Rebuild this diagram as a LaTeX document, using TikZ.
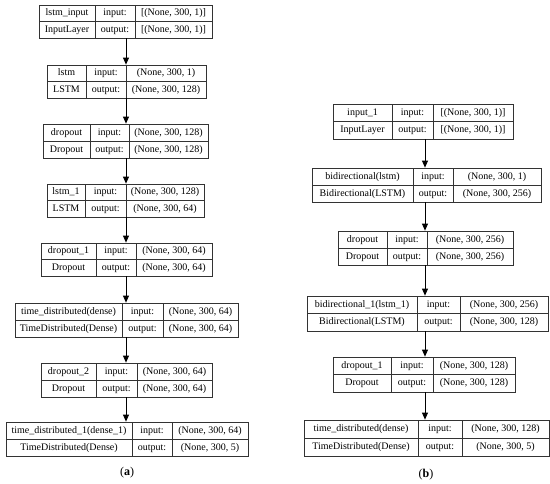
\documentclass[tikz,border=0pt]{standalone}
\usepackage{fontspec}
\setmainfont{Liberation Serif}
\usetikzlibrary{arrows.meta,fit}
\tikzset{
  boxline/.style={draw=black!80, line width=0.8pt},
  celltext/.style={inner sep=0pt, font=\fontsize{10}{12}\selectfont, text height=7pt, text depth=2pt},
  flow/.style={draw=black, line width=0.8pt, -{Triangle[length=7pt,width=6pt]}},
  sublabel/.style={inner sep=0pt, font=\fontsize{12}{14}\selectfont}
}
% \LB{id}{x0}{xa}{xb}{x1}{y0}{y1}{name}{type}{in}{out}
\newcommand\LB[9]{%
  \def\LBid{#1}\def\LBxo{#2}\def\LBxa{#3}\def\LBxb{#4}\def\LBxi{#5}%
  \def\LByo{#6}\def\LByi{#7}\def\LBname{#8}\def\LBtype{#9}\LBfinish}
\newcommand\LBfinish[2]{%
  \pgfmathsetmacro\LBym{(\LByo+\LByi)/2}%
  \coordinate (\LBid-nw) at (\LBxo,\LByo);
  \coordinate (\LBid-se) at (\LBxi,\LByi);
  \node[boxline, inner sep=0pt, fit=(\LBid-nw)(\LBid-se)] (\LBid) {};
  \draw[boxline] (\LBxa,\LByo) -- (\LBxa,\LByi);
  \draw[boxline] (\LBxb,\LByo) -- (\LBxb,\LByi);
  \draw[boxline] (\LBxo,\LBym) -- (\LBxi,\LBym);
  \node[celltext] (\LBid-n) at ({(\LBxo+\LBxa)/2},{(\LByo+\LBym)/2}) {\LBname};
  \node[celltext] (\LBid-t) at ({(\LBxo+\LBxa)/2},{(\LBym+\LByi)/2}) {\LBtype};
  \node[celltext] (\LBid-il) at ({(\LBxa+\LBxb)/2},{(\LByo+\LBym)/2}) {input:};
  \node[celltext] (\LBid-ol) at ({(\LBxa+\LBxb)/2},{(\LBym+\LByi)/2}) {output:};
  \node[celltext] (\LBid-i) at ({(\LBxb+\LBxi)/2},{(\LByo+\LBym)/2}) {#1};
  \node[celltext] (\LBid-o) at ({(\LBxb+\LBxi)/2},{(\LBym+\LByi)/2}) {#2};
}
\begin{document}
\begin{tikzpicture}[x=1pt,y=-1pt]
\useasboundingbox (0,0) rectangle (550,483);
% left column (a)
\LB{L1}{39}{95}{135}{212}{5}{38}{lstm\_input}{InputLayer}{[(None, 300, 1)]}{[(None, 300, 1)]}
\LB{L2}{47}{86}{126}{206}{65}{98}{lstm}{LSTM}{(None, 300, 1)}{(None, 300, 128)}
\LB{L3}{43}{90}{129}{208}{124}{158}{dropout}{Dropout}{(None, 300, 128)}{(None, 300, 128)}
\LB{L4}{47}{85}{126}{204}{184}{217}{lstm\_1}{LSTM}{(None, 300, 128)}{(None, 300, 64)}
\LB{L5}{41}{96}{136}{212}{243}{276}{dropout\_1}{Dropout}{(None, 300, 64)}{(None, 300, 64)}
\LB{L6}{15}{122}{163}{238}{303}{337}{time\_distributed(dense)}{TimeDistributed(Dense)}{(None, 300, 64)}{(None, 300, 64)}
\LB{L7}{41}{96}{137}{212}{363}{397}{dropout\_2}{Dropout}{(None, 300, 64)}{(None, 300, 64)}
\LB{L8}{6}{132}{172}{248}{422}{456}{time\_distributed\_1(dense\_1)}{TimeDistributed(Dense)}{(None, 300, 64)}{(None, 300, 5)}
\coordinate (ax) at (126,0);
\foreach \a/\b in {L1/L2,L2/L3,L3/L4,L4/L5,L5/L6,L6/L7,L7/L8}
  \draw[flow] (\a.south -| ax) -- (\b.north -| ax);
\node[sublabel] (capa) at (127,473) {(\textbf{a})};
% right column (b)
\LB{R1}{333}{392}{433}{513}{104}{139}{input\_1}{InputLayer}{[(None, 300, 1)]}{[(None, 300, 1)]}
\LB{R2}{312}{413}{453}{541}{168}{202}{bidirectional(lstm)}{Bidirectional(LSTM)}{(None, 300, 1)}{(None, 300, 256)}
\LB{R3}{338}{387}{427}{513}{231}{265}{dropout}{Dropout}{(None, 300, 256)}{(None, 300, 256)}
\LB{R4}{307}{417}{460}{548}{296}{331}{bidirectional\_1(lstm\_1)}{Bidirectional(LSTM)}{(None, 300, 256)}{(None, 300, 128)}
\LB{R5}{333}{391}{433}{515}{357}{392}{dropout\_1}{Dropout}{(None, 300, 128)}{(None, 300, 128)}
\LB{R6}{304}{418}{462}{549}{420}{456}{time\_distributed(dense)}{TimeDistributed(Dense)}{(None, 300, 128)}{(None, 300, 5)}
\coordinate (bx) at (425,0);
\foreach \a/\b in {R1/R2,R2/R3,R3/R4,R4/R5,R5/R6}
  \draw[flow] (\a.south -| bx) -- (\b.north -| bx);
\node[sublabel] (capb) at (426,475) {(\textbf{b})};
\end{tikzpicture}
\end{document}
